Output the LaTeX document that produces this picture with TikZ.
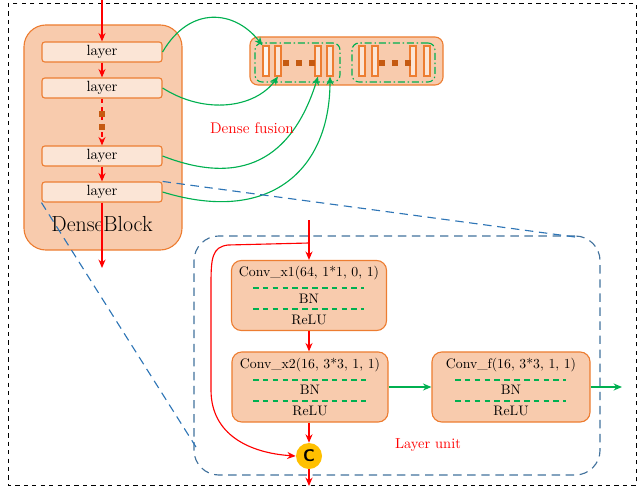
\documentclass[tikz,border=0pt]{standalone}
\usepackage{xcolor}
\usepackage{tikz}
\usetikzlibrary{arrows.meta,positioning}
\definecolor{lineorange}{HTML}{ED7D31}
\definecolor{fillorange}{HTML}{F8CBAD}
\definecolor{paleorange}{HTML}{FBE5D6}
\definecolor{dotbrown}{HTML}{C55A11}
\definecolor{fusegreen}{HTML}{00B050}
\definecolor{linkblue}{HTML}{2E75B6}
\definecolor{unitblue}{HTML}{41719C}
\definecolor{catyellow}{HTML}{FFC000}

\begin{document}
\begin{tikzpicture}[x=0.025cm,y=-0.025cm]
        \tikzstyle{every node}+=[inner sep=0pt]
        \tikzstyle{layerbox}=[draw=lineorange,thick,fill=paleorange,rounded corners=2pt,minimum width=3cm,minimum height=0.5cm,font=\fontsize{10.5}{12}\selectfont]
        \tikzstyle{convbox}=[draw=lineorange,thick,fill=fillorange,rounded corners=7pt,minimum height=1.75cm]
        \tikzstyle{convtext}=[font=\fontsize{9.8}{11}\selectfont]
        \tikzstyle{bar}=[draw=lineorange,thick,fill=paleorange,minimum width=0.15cm,minimum height=0.75cm]
        \tikzstyle{dotsq}=[fill=dotbrown,minimum size=0.13cm]
        \tikzstyle{groupbox}=[draw=fusegreen,thick,dash pattern=on 5pt off 2pt on 1pt off 2pt,rounded corners=5pt,minimum height=0.975cm]
        \tikzstyle{redarrow}=[red,thick,-{Stealth[length=6pt,width=5pt]}]
        \tikzstyle{greenarrow}=[fusegreen,thick,-{Stealth[length=6pt,width=5pt]}]
        \tikzstyle{greendash}=[fusegreen,thick,dash pattern=on 4pt off 3pt]
        \tikzstyle{bluedash}=[linkblue,thick,dash pattern=on 6pt off 4pt]
        \useasboundingbox (0,0) rectangle (637,486);
        \draw [black,dashed] (8,3) rectangle (636,485);
        % dense block
        \node [draw=lineorange,thick,fill=fillorange,rounded corners=0.55cm,minimum width=3.95cm,minimum height=5.625cm] (block) at (103,137.5) {};
        \node [font=\fontsize{15.5}{18}\selectfont] (blocklabel) at (102,224) {DenseBlock};
        \node [layerbox] (layer1) at (102,52) {layer};
        \node [layerbox] (layer2) at (102,88) {layer};
        \node [layerbox] (layer3) at (102,156) {layer};
        \node [layerbox] (layer4) at (102,192) {layer};
        \coordinate (blockin) at (102,0);
        \coordinate (blockout) at (102,268);
        \draw [redarrow] (blockin) -- (layer1);
        \draw [redarrow] (layer1) -- (layer2);
        \draw [redarrow,dashed] (layer2) -- (layer3);
        \node [dotsq] (skip1) at (102,114) {};
        \node [dotsq] (skip2) at (102,127) {};
        \draw [redarrow] (layer3) -- (layer4);
        \draw [redarrow] (layer4) -- (blockout);
        % dense fusion
        \node [draw=lineorange,thick,fill=fillorange,rounded corners=0.2cm,minimum width=4.825cm,minimum height=1.2cm] (fusion) at (346.5,61) {};
        \node [groupbox,minimum width=2.125cm] (groupA) at (297.5,62.5) {};
        \node [groupbox,minimum width=2.075cm] (groupB) at (393.5,62.5) {};
        \node [bar,fill=paleorange!40] (bar1) at (266,61) {};
        \node [bar] (bar2) at (278,61) {};
        \node [bar] (bar3) at (318,61) {};
        \node [bar] (bar4) at (330,61) {};
        \node [bar] (bar5) at (362,61) {};
        \node [bar] (bar6) at (375,61) {};
        \node [bar] (bar7) at (413,61) {};
        \node [bar] (bar8) at (427,61) {};
        \node [dotsq] (dotA1) at (286,63) {};
        \node [dotsq] (dotA2) at (299,63) {};
        \node [dotsq] (dotA3) at (312,63) {};
        \node [dotsq] (dotB1) at (382,63) {};
        \node [dotsq] (dotB2) at (395,63) {};
        \node [dotsq] (dotB3) at (408,63) {};
        \draw [greenarrow] (layer1.east) .. controls (190,5) and (235,10) .. (bar1.north west);
        \draw [greenarrow] (layer2.east) .. controls (205,115) and (255,108) .. (bar2.south);
        \draw [greenarrow] (layer3.east) .. controls (250,190) and (295,150) .. (bar3.south);
        \draw [greenarrow] (layer4.east) .. controls (270,225) and (330,170) .. (bar4.south);
        \node [red,font=\fontsize{11}{13}\selectfont] (fusionlabel) at (252,128) {Dense fusion};
        % layer unit
        \node [draw=unitblue,thick,dash pattern=on 6pt off 4pt,rounded corners=0.625cm,minimum width=10.15cm,minimum height=5.975cm] (unit) at (397,355.5) {};
        \coordinate (zoomtop) at (575,237);
        \coordinate (zoombottom) at (196,447);
        \draw [bluedash] (layer4.north east) -- (zoomtop);
        \draw [bluedash] (layer4.south west) -- (zoombottom);
        \node [convbox,minimum width=3.875cm] (conv1) at (309,295.5) {};
        \node [convtext] (conv1a) at (309,273) {Conv\_x1(64, 1*1, 0, 1)};
        \node [convtext] (conv1b) at (309,299) {BN};
        \node [convtext] (conv1c) at (309,320) {ReLU};
        \draw [greendash] (253,288) -- (364,288);
        \draw [greendash] (253,309) -- (364,309);
        \node [convbox,minimum width=3.9cm] (conv2) at (310,387) {};
        \node [convtext] (conv2a) at (310,365) {Conv\_x2(16, 3*3, 1, 1)};
        \node [convtext] (conv2b) at (310,390) {BN};
        \node [convtext] (conv2c) at (310,411) {ReLU};
        \draw [greendash] (253,380) -- (366,380);
        \draw [greendash] (253,401) -- (366,401);
        \node [convbox,minimum width=3.95cm] (convf) at (511,387) {};
        \node [convtext] (convfa) at (511,365) {Conv\_f(16, 3*3, 1, 1)};
        \node [convtext] (convfb) at (511,390) {BN};
        \node [convtext] (convfc) at (511,411) {ReLU};
        \draw [greendash] (455,380) -- (566,380);
        \draw [greendash] (455,401) -- (566,401);
        \node [circle,fill=catyellow,minimum size=0.65cm,font=\sffamily\bfseries\large] (cat) at (309,456) {C};
        \coordinate (unitin) at (309,220);
        \coordinate (split) at (309,243);
        \coordinate (unitout) at (309,486);
        \coordinate (convout) at (622,387);
        \draw [redarrow] (unitin) -- (conv1);
        \draw [redarrow] (conv1) -- (conv1 |- conv2.north);
        \draw [redarrow] (conv2.south -| cat) -- (cat);
        \draw [redarrow] (cat) -- (unitout);
        \draw [redarrow] (split) -- (228,245) .. controls (212,247) and (211,258) .. (211,285) -- (211,390) .. controls (211,435) and (250,453) .. (cat.west);
        \draw [greenarrow] (conv2) -- (convf);
        \draw [greenarrow] (convf) -- (convout);
        \node [red,font=\fontsize{10.3}{12}\selectfont] (unitlabel) at (428,445) {Layer unit};
\end{tikzpicture}
\end{document}
